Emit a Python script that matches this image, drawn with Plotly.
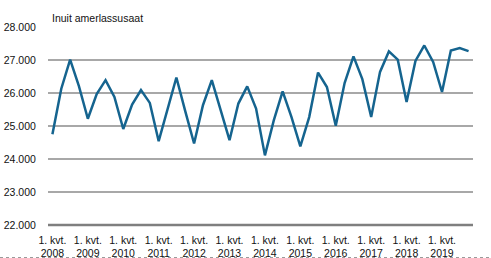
import plotly.graph_objects as go

years = list(range(2008, 2020))
quarters = [f"{y} K{q}" for y in years for q in range(1, 5)]
values = [
    24750, 26130, 27010, 26200,
    25220, 25970, 26390, 25880,
    24910, 25650, 26090, 25700,
    24540, 25500, 26470, 25450,
    24470, 25630, 26390, 25480,
    24570, 25680, 26200, 25530,
    24110, 25170, 26050, 25270,
    24380, 25270, 26620, 26180,
    25010, 26300, 27110, 26420,
    25270, 26640, 27260, 27010,
    25730, 26970, 27440, 26940,
    26030, 27290, 27360, 27270,
]
tick_vals = [f"{y} K1" for y in years]
tick_text = [f"1. kvt.<br>{y}" for y in years]
y_ticks = [22000, 23000, 24000, 25000, 26000, 27000, 28000]
y_tick_text = ["22.000", "23.000", "24.000", "25.000", "26.000", "27.000", "28.000"]
title_text = "Inuit amerlassusaat"

W, H = 491, 258
ml, mr, mt, mb = 48, 18, 27, 33
y_min, y_max = y_ticks[0], y_ticks[-1]

fig = go.Figure()
fig.add_trace(go.Scatter(
    x=quarters, y=values, mode="lines",
    line=dict(color="#15648f", width=2.5),
    hoverinfo="skip", showlegend=False,
))

font = dict(family="Liberation Sans, Arial, sans-serif", size=10.5, color="#111111")

fig.update_layout(
    template="none",
    width=W, height=H,
    margin=dict(l=ml, r=mr, t=mt, b=mb, pad=0, autoexpand=False),
    paper_bgcolor="white", plot_bgcolor="white",
    font=font,
    xaxis=dict(
        type="category", categoryorder="array", categoryarray=quarters,
        tickmode="array", tickvals=tick_vals, ticktext=tick_text,
        showgrid=False, zeroline=False, showline=False,
        ticks="outside", ticklen=5, tickcolor="rgba(0,0,0,0)",
        tickfont=font, tickangle=0, automargin=False,
        range=[-0.5, len(quarters) - 0.5],
    ),
    yaxis=dict(
        range=[y_min, y_max], tickmode="array", tickvals=y_ticks, ticktext=y_tick_text,
        showgrid=True, gridcolor="#a8a8a8", gridwidth=2,
        zeroline=False, showline=False, ticks="outside", ticklen=9,
        tickcolor="rgba(0,0,0,0)", tickfont=font, automargin=False,
    ),
    annotations=[dict(
        text=title_text, xref="paper", yref="paper", x=0, y=1,
        xanchor="left", yanchor="bottom", xshift=2, yshift=1,
        showarrow=False, font=font,
    )],
    shapes=[
        dict(type="line", xref="paper", yref="paper", x0=0, x1=1, y0=0, y1=0,
             line=dict(color="#7f7f7f", width=2.5), layer="above"),
        dict(type="line", xref="paper", yref="paper",
             x0=-ml / (W - ml - mr), x1=1 + (mr - 1) / (W - ml - mr),
             y0=-(mb - 0.5) / (H - mt - mb), y1=-(mb - 0.5) / (H - mt - mb),
             line=dict(color="#9a9a9a", width=1, dash="dot")),
    ],
)

fig.write_html("out.html")
